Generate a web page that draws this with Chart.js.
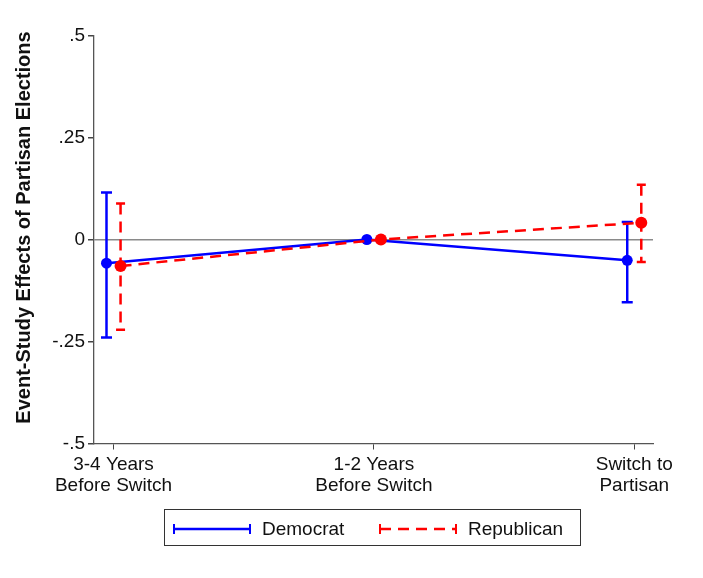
<!DOCTYPE html>
<html>
<head>
<meta charset="utf-8">
<script src="https://cdn.jsdelivr.net/npm/chart.js@4"></script>
<style>
  html, body { margin: 0; padding: 0; background: #fff; }
  #wrap { position: relative; width: 703px; height: 578px; }
  #legend {
    position: absolute; left: 164px; top: 509px; width: 417px; height: 37px;
    border: 1.3px solid #333; box-sizing: border-box;
    font-family: "Liberation Sans", Arial, sans-serif; font-size: 19px; color: #111;
  }
  #legend svg { position: absolute; top: 0; }
  #legend span { position: absolute; top: 8px; }
</style>
</head>
<body>
<div id="wrap">
  <canvas id="chart" width="703" height="578"></canvas>
  <div id="legend">
    <svg style="left:7px" width="80" height="36">
      <line x1="2" y1="19" x2="78" y2="19" stroke="#0000ff" stroke-width="2.5"/>
      <line x1="2" y1="14" x2="2" y2="24" stroke="#0000ff" stroke-width="2"/>
      <line x1="78" y1="14" x2="78" y2="24" stroke="#0000ff" stroke-width="2"/>
    </svg>
    <span style="left:97px">Democrat</span>
    <svg style="left:213px" width="80" height="36">
      <line x1="2" y1="19" x2="78" y2="19" stroke="#ff0000" stroke-width="2.5" stroke-dasharray="11,7"/>
      <line x1="2" y1="14" x2="2" y2="24" stroke="#ff0000" stroke-width="2"/>
      <line x1="78" y1="14" x2="78" y2="24" stroke="#ff0000" stroke-width="2"/>
    </svg>
    <span style="left:303px">Republican</span>
  </div>
</div>
<script>
// Categories (event time) and estimates
const categories = [["3-4 Years", "Before Switch"], ["1-2 Years", "Before Switch"], ["Switch to", "Partisan"]];
const yTicks = [-0.5, -0.25, 0, 0.25, 0.5];
const yTickLabels = ["-.5", "-.25", "0", ".25", ".5"];
const yTitle = "Event-Study Effects of Partisan Elections";

const demEst = [-0.058, 0, -0.051];
const demLow = [-0.240, 0, -0.154];
const demHigh = [0.115, 0, 0.043];

const repEst = [-0.065, 0, 0.041];
const repLow = [-0.221, 0, -0.055];
const repHigh = [0.088, 0, 0.134];

// horizontal dodge so the two series don't overlap
const DODGE = 0.027;
const BLUE = "#0000ff";
const RED = "#ff0000";
const FONT = "'Liberation Sans', Arial, Helvetica, sans-serif";

function toPoints(est, shift) {
  return est.map((v, i) => ({ x: i + shift, y: v }));
}

// Draw the confidence intervals right after each dataset
const errorBars = {
  id: "errorBars",
  afterDatasetDraw(chart, args) {
    const ds = chart.data.datasets[args.index];
    if (!ds.low) return;
    const ctx = chart.ctx;
    const xs = chart.scales.x, ys = chart.scales.y;
    ctx.save();
    ctx.strokeStyle = ds.borderColor;
    ctx.lineWidth = 2.5;
    ds.low.forEach((lo, i) => {
      const hi = ds.high[i];
      if (lo === hi) return;
      const px = xs.getPixelForValue(i + ds.shift);
      const pLo = ys.getPixelForValue(lo);
      const pHi = ys.getPixelForValue(hi);
      ctx.setLineDash(ds.borderDash || []);
      ctx.beginPath();
      ctx.moveTo(px, pHi);
      ctx.lineTo(px, pLo);
      ctx.stroke();
      ctx.setLineDash([]);
      ctx.beginPath();
      ctx.moveTo(px - ds.cap, pHi); ctx.lineTo(px + ds.cap, pHi);
      ctx.moveTo(px - ds.cap, pLo); ctx.lineTo(px + ds.cap, pLo);
      ctx.stroke();
    });
    ctx.restore();
  }
};

// y title sits a little above the plot's middle in the original
const sideTitle = {
  id: "sideTitle",
  afterDraw(chart) {
    const ctx = chart.ctx;
    const area = chart.chartArea;
    ctx.save();
    ctx.translate(24, (area.top + area.bottom) / 2 - 12);
    ctx.rotate(-Math.PI / 2);
    ctx.font = "bold 20px " + FONT;
    ctx.fillStyle = "#111";
    ctx.textAlign = "center";
    ctx.textBaseline = "middle";
    ctx.fillText(yTitle, 0, 0);
    ctx.restore();
  }
};

new Chart(document.getElementById("chart"), {
  type: "scatter",
  data: {
    datasets: [
      {
        label: "Democrat",
        data: toPoints(demEst, -DODGE),
        low: demLow, high: demHigh, shift: -DODGE, cap: 5.5,
        showLine: true,
        borderColor: BLUE, backgroundColor: BLUE,
        borderWidth: 2.5, pointRadius: 5.5, pointBorderWidth: 0,
        order: 2,
      },
      {
        label: "Republican",
        data: toPoints(repEst, DODGE),
        low: repLow, high: repHigh, shift: DODGE, cap: 4.5,
        showLine: true,
        borderColor: RED, backgroundColor: RED,
        borderWidth: 2.5, borderDash: [11, 7], pointRadius: 6, pointBorderWidth: 0,
        order: 1,
      },
    ],
  },
  options: {
    responsive: false,
    animation: false,
    layout: { padding: { left: 0, right: 50, top: 35.5, bottom: 74.5 } },
    plugins: {
      legend: { display: false },
      tooltip: { enabled: false },
    },
    scales: {
      x: {
        type: "linear",
        min: -0.075,
        max: 2.072,
        afterBuildTicks: (s) => { s.ticks = categories.map((c, i) => ({ value: i })); },
        afterFit: (s) => { s.height = 60; },
        ticks: {
          callback: (v) => categories[v],
          color: "#111",
          font: { family: FONT, size: 19, lineHeight: 1.08 },
          padding: 5,
          maxRotation: 0,
          autoSkip: false,
        },
        grid: { drawOnChartArea: false, tickLength: 6, tickColor: "#444", lineWidth: 1 },
        border: { color: "#555", width: 1.3 },
      },
      y: {
        min: -0.5,
        max: 0.5,
        afterBuildTicks: (s) => { s.ticks = yTicks.map((v) => ({ value: v })); },
        afterFit: (s) => { s.width = 94; },
        ticks: {
          callback: (v) => yTickLabels[yTicks.indexOf(v)],
          color: "#111",
          font: { family: FONT, size: 19 },
          padding: 3,
        },
        grid: {
          color: (c) => (c.tick && c.tick.value === 0 ? "#8a8a8a" : "rgba(0,0,0,0)"),
          lineWidth: 1.5,
          tickLength: 6,
          tickColor: "#444",
        },
        border: { color: "#555", width: 1.3 },
      },
    },
  },
  plugins: [errorBars, sideTitle],
});
</script>
</body>
</html>
